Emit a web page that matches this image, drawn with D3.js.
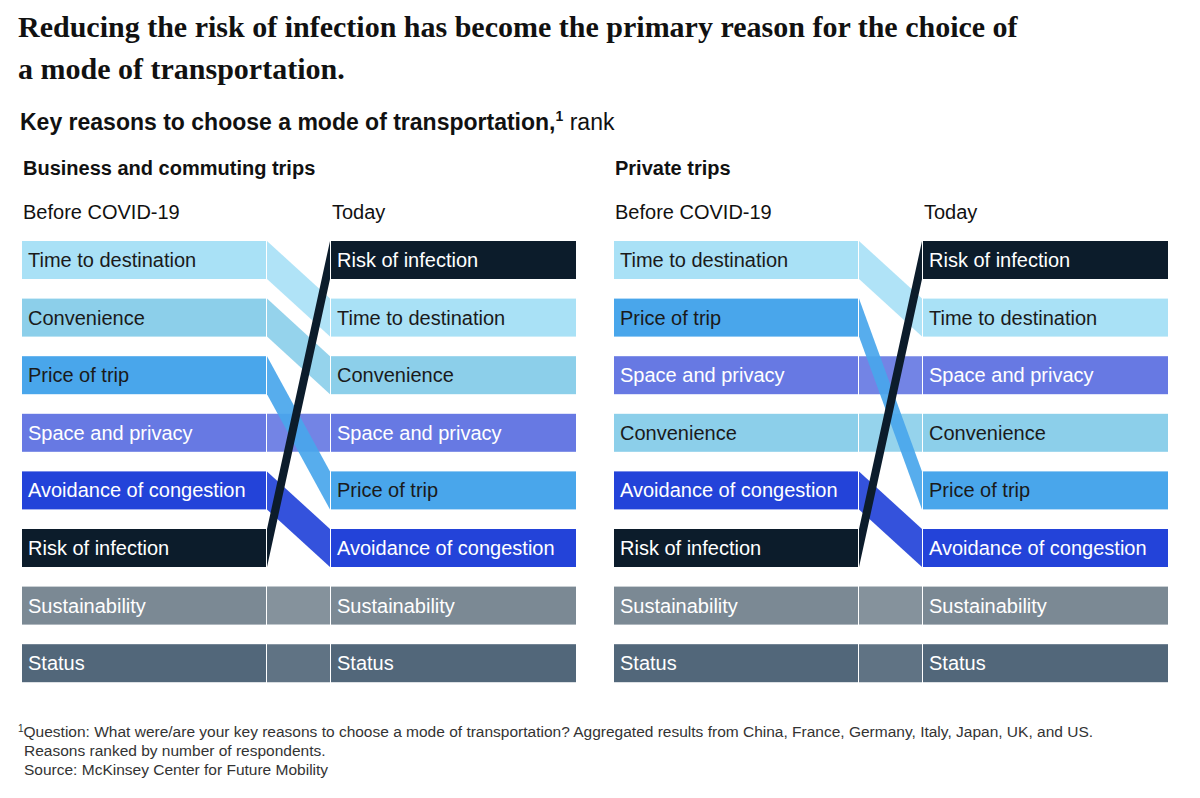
<!DOCTYPE html>
<html><head><meta charset="utf-8">
<script src="https://cdn.jsdelivr.net/npm/d3@7"></script>
<style>body{margin:0;background:#fff}</style></head>
<body><svg id="c" width="1200" height="798"></svg>
<script>
const reasons = ["Time to destination","Convenience","Price of trip","Space and privacy","Avoidance of congestion","Risk of infection","Sustainability","Status"];
const colors = {"Time to destination":"#a9e1f6","Convenience":"#8ccfea","Price of trip":"#49a6eb","Space and privacy":"#6779e3","Avoidance of congestion":"#2343d9","Risk of infection":"#0c1c2b","Sustainability":"#7b8994","Status":"#52677a"};
const darkText = ["Time to destination","Convenience","Price of trip"];
const businessBefore = ["Time to destination","Convenience","Price of trip","Space and privacy","Avoidance of congestion","Risk of infection","Sustainability","Status"];
const businessToday = ["Risk of infection","Time to destination","Convenience","Space and privacy","Price of trip","Avoidance of congestion","Sustainability","Status"];
const privateBefore = ["Time to destination","Price of trip","Space and privacy","Convenience","Avoidance of congestion","Risk of infection","Sustainability","Status"];
const privateToday = ["Risk of infection","Time to destination","Space and privacy","Convenience","Price of trip","Avoidance of congestion","Sustainability","Status"];

const svg = d3.select("#c");
const F = "'Liberation Sans', Arial, sans-serif";
const SF = "'Liberation Serif', serif";
svg.append("text").attr("x",18).attr("y",37).attr("font-family",SF).attr("font-weight","bold").attr("font-size",30).attr("fill","#111").text("Reducing the risk of infection has become the primary reason for the choice of");
svg.append("text").attr("x",18).attr("y",79).attr("font-family",SF).attr("font-weight","bold").attr("font-size",30).attr("fill","#111").text("a mode of transportation.");
const st = svg.append("text").attr("x",20).attr("y",130).attr("font-family",F).attr("font-size",23).attr("fill","#111");
st.append("tspan").attr("font-weight","bold").text("Key reasons to choose a mode of transportation,");
st.append("tspan").attr("font-weight","bold").attr("font-size",14).attr("dy",-9).text("1");
st.append("tspan").attr("dy",9).text(" rank");

// 8 rows: step 57.6, height 38
const y = d3.scaleBand().domain(d3.range(8)).range([241, 241 + 7*57.6 + 38]).paddingInner(19.6/57.6).paddingOuter(0);

function panel(x0, title, before, today){
  const lx0=x0, lx1=x0+244, rx0=x0+309, rx1=x0+554;
  svg.append("text").attr("x",x0+1).attr("y",175).attr("font-family",F).attr("font-weight","bold").attr("font-size",20).attr("fill","#111").text(title);
  svg.append("text").attr("x",x0+1).attr("y",219).attr("font-family",F).attr("font-size",20).attr("fill","#111").text("Before COVID-19");
  svg.append("text").attr("x",rx0+1).attr("y",219).attr("font-family",F).attr("font-size",20).attr("fill","#111").text("Today");
  const h=y.bandwidth();
  const links = before.map((r,i)=>({r, a:i, b:today.indexOf(r)}));
  links.sort((p,q)=>(p.r==="Risk of infection")-(q.r==="Risk of infection") || (p.a!==p.b)-(q.a!==q.b));
  links.forEach(l=>{
    const ya=y(l.a), yb=y(l.b);
    svg.append("path").attr("d",`M${lx1+1},${ya}L${rx0-1},${yb}L${rx0-1},${yb+h}L${lx1+1},${ya+h}Z`).attr("fill",colors[l.r]).attr("opacity",l.r==="Risk of infection"?1:0.92);
  });
  [[before,lx0,lx1],[today,rx0,rx1]].forEach(([arr,a,b])=>{
    arr.forEach((r,i)=>{
      svg.append("rect").attr("x",a).attr("y",y(i)).attr("width",b-a).attr("height",h).attr("fill",colors[r]);
      svg.append("text").attr("x",a+6).attr("y",y(i)+h/2+7).attr("font-family",F).attr("font-size",20).attr("fill",darkText.includes(r)?"#1a1a1a":"#fff").text(r);
    });
  });
}
panel(22,"Business and commuting trips",businessBefore,businessToday);
panel(614,"Private trips",privateBefore,privateToday);

const fn = svg.append("g").attr("font-family",F).attr("font-size",15.5).attr("fill","#333");
const t1 = fn.append("text").attr("x",18).attr("y",737);
t1.append("tspan").attr("font-size",10).attr("dy",-5).text("1");
t1.append("tspan").attr("dy",5).text("Question: What were/are your key reasons to choose a mode of transportation? Aggregated results from China, France, Germany, Italy, Japan, UK, and US.");
fn.append("text").attr("x",24).attr("y",756).text("Reasons ranked by number of respondents.");
fn.append("text").attr("x",24).attr("y",775).text("Source: McKinsey Center for Future Mobility");
</script></body></html>
